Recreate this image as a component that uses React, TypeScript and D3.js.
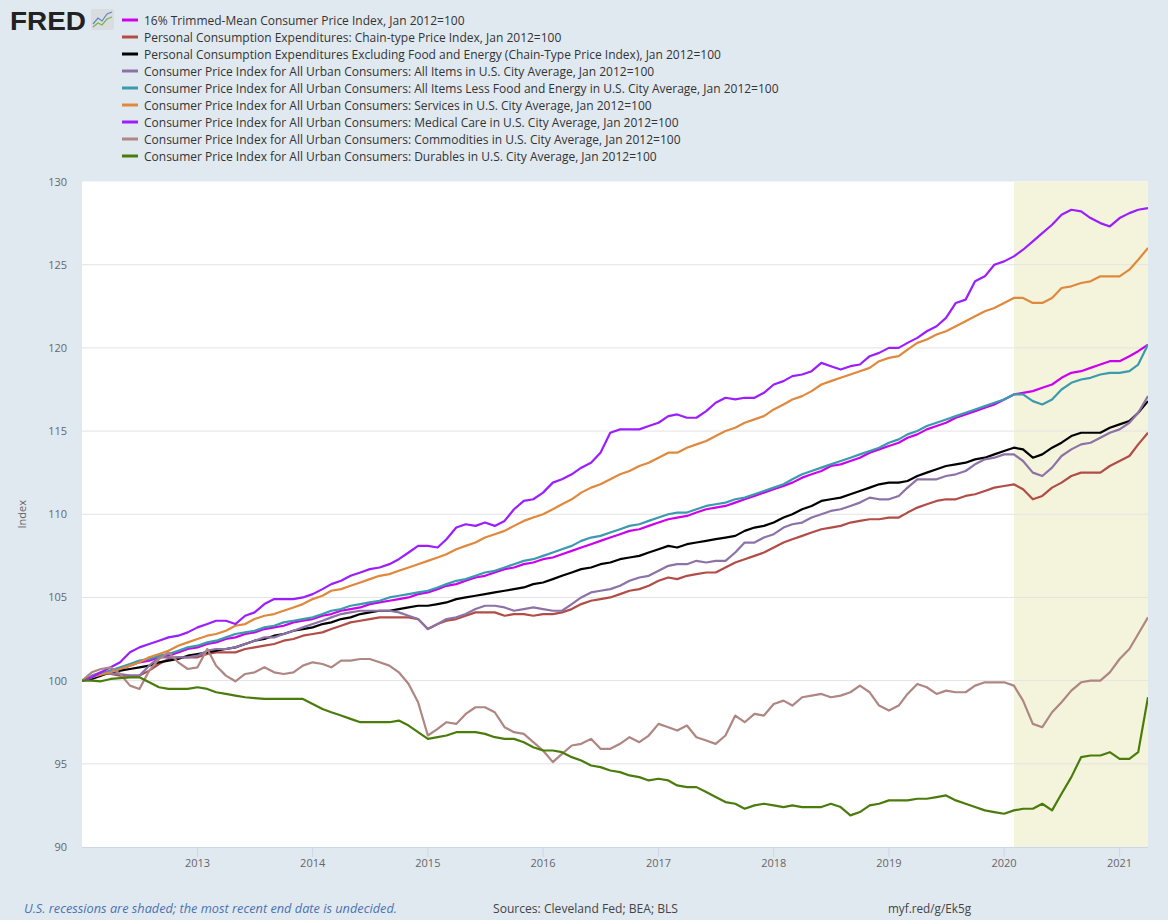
import React from "react";
import * as d3 from "d3";

const START = new Date(2012, 0, 1);
const END = new Date(2021, 3, 1);

const trimmedMean = [100.0,100.2,100.4,100.6,100.7,100.9,101.1,101.2,101.4,101.5,101.7,101.9,102.0,102.2,102.3,102.5,102.6,102.8,102.9,103.1,103.2,103.3,103.5,103.6,103.7,103.9,104.0,104.2,104.3,104.4,104.6,104.7,104.8,104.9,105.0,105.2,105.3,105.5,105.7,105.8,106.0,106.2,106.3,106.5,106.7,106.8,107.0,107.1,107.3,107.4,107.6,107.8,108.0,108.2,108.4,108.6,108.8,109.0,109.1,109.3,109.5,109.7,109.8,109.9,110.1,110.3,110.4,110.5,110.7,110.9,111.1,111.3,111.5,111.7,111.9,112.2,112.4,112.6,112.9,113.0,113.2,113.4,113.7,113.9,114.1,114.3,114.6,114.8,115.1,115.3,115.5,115.8,116.0,116.2,116.4,116.6,116.9,117.2,117.3,117.4,117.6,117.8,118.2,118.5,118.6,118.8,119.0,119.2,119.2,119.5,119.8,120.2];
const pce = [100.0,100.2,100.4,100.4,100.3,100.3,100.3,100.6,101.0,101.3,101.4,101.4,101.4,101.6,101.7,101.7,101.7,101.9,102.0,102.1,102.2,102.4,102.5,102.7,102.8,102.9,103.1,103.3,103.5,103.6,103.7,103.8,103.8,103.8,103.8,103.7,103.1,103.4,103.6,103.7,103.9,104.1,104.1,104.1,103.9,104.0,104.0,103.9,104.0,104.0,104.1,104.3,104.6,104.8,104.9,105.0,105.2,105.4,105.5,105.7,106.0,106.2,106.1,106.3,106.4,106.5,106.5,106.8,107.1,107.3,107.5,107.7,108.0,108.3,108.5,108.7,108.9,109.1,109.2,109.3,109.5,109.6,109.7,109.7,109.8,109.8,110.1,110.4,110.6,110.8,110.9,110.9,111.1,111.2,111.4,111.6,111.7,111.8,111.5,110.9,111.1,111.6,111.9,112.3,112.5,112.5,112.5,112.9,113.2,113.5,114.2,114.9];
const pceCore = [100.0,100.1,100.3,100.5,100.6,100.7,100.8,100.9,101.1,101.2,101.3,101.5,101.6,101.7,101.8,101.9,102.0,102.2,102.4,102.5,102.7,102.8,103.0,103.1,103.2,103.4,103.5,103.7,103.8,104.0,104.1,104.2,104.2,104.3,104.4,104.5,104.5,104.6,104.7,104.9,105.0,105.1,105.2,105.3,105.4,105.5,105.6,105.8,105.9,106.1,106.3,106.5,106.7,106.8,107.0,107.1,107.3,107.4,107.5,107.7,107.9,108.1,108.0,108.2,108.3,108.4,108.5,108.6,108.7,109.0,109.2,109.3,109.5,109.8,110.0,110.3,110.5,110.8,110.9,111.0,111.2,111.4,111.6,111.8,111.9,111.9,112.0,112.3,112.5,112.7,112.9,113.0,113.1,113.3,113.4,113.6,113.8,114.0,113.9,113.4,113.6,114.0,114.3,114.7,114.9,114.9,114.9,115.2,115.4,115.6,116.1,116.8];
const cpiAll = [100.0,100.3,100.5,100.4,100.4,100.3,100.3,100.9,101.4,101.4,101.4,101.4,101.5,101.8,101.9,101.9,102.0,102.2,102.4,102.6,102.6,102.8,103.0,103.2,103.4,103.6,103.8,104.0,104.1,104.2,104.2,104.2,104.2,104.1,103.9,103.7,103.1,103.4,103.7,103.8,104.0,104.3,104.5,104.5,104.4,104.2,104.3,104.4,104.3,104.2,104.2,104.6,105.0,105.3,105.4,105.5,105.7,106.0,106.2,106.3,106.6,106.9,107.0,107.0,107.2,107.1,107.2,107.2,107.7,108.3,108.3,108.6,108.8,109.2,109.4,109.5,109.8,110.0,110.2,110.3,110.5,110.7,111.0,110.9,110.9,111.1,111.6,112.1,112.1,112.1,112.3,112.4,112.6,113.0,113.3,113.4,113.6,113.6,113.2,112.5,112.3,112.8,113.5,113.9,114.2,114.3,114.6,114.9,115.1,115.5,116.1,117.1];
const cpiCore = [100.0,100.2,100.4,100.6,100.8,101.0,101.2,101.3,101.5,101.6,101.8,102.0,102.1,102.3,102.4,102.6,102.8,102.9,103.0,103.2,103.3,103.5,103.6,103.7,103.8,104.0,104.2,104.3,104.5,104.6,104.7,104.8,105.0,105.1,105.2,105.3,105.4,105.6,105.8,106.0,106.1,106.3,106.5,106.6,106.8,107.0,107.2,107.3,107.5,107.7,107.9,108.1,108.4,108.6,108.7,108.9,109.1,109.3,109.4,109.6,109.8,110.0,110.1,110.1,110.3,110.5,110.6,110.7,110.9,111.0,111.2,111.4,111.6,111.8,112.1,112.4,112.6,112.8,113.0,113.2,113.4,113.6,113.8,114.0,114.3,114.5,114.8,115.0,115.3,115.5,115.7,115.9,116.1,116.3,116.5,116.7,116.9,117.2,117.2,116.8,116.6,116.9,117.5,117.9,118.1,118.2,118.4,118.5,118.5,118.6,119.0,120.2];
const services = [100.0,100.2,100.35,100.5,100.7,100.9,101.1,101.4,101.6,101.8,102.1,102.3,102.5,102.7,102.8,103.0,103.3,103.4,103.7,103.9,104.0,104.2,104.4,104.6,104.9,105.1,105.4,105.5,105.7,105.9,106.1,106.3,106.4,106.6,106.8,107.0,107.2,107.4,107.6,107.9,108.1,108.3,108.6,108.8,109.0,109.3,109.6,109.8,110.0,110.3,110.6,110.9,111.3,111.6,111.8,112.1,112.4,112.6,112.9,113.1,113.4,113.7,113.7,114.0,114.2,114.4,114.7,115.0,115.2,115.5,115.7,115.9,116.3,116.6,116.9,117.1,117.4,117.8,118.0,118.2,118.4,118.6,118.8,119.2,119.4,119.5,119.9,120.3,120.5,120.8,121.0,121.3,121.6,121.9,122.2,122.4,122.7,123.0,123.0,122.7,122.7,123.0,123.6,123.7,123.9,124.0,124.3,124.3,124.3,124.7,125.3,126.0];
const medical = [100.0,100.2,100.5,100.8,101.1,101.7,102.0,102.2,102.4,102.6,102.7,102.9,103.2,103.4,103.6,103.6,103.4,103.9,104.1,104.6,104.9,104.9,104.9,105.0,105.2,105.5,105.8,106.0,106.3,106.5,106.7,106.8,107.0,107.3,107.7,108.1,108.1,108.0,108.5,109.2,109.4,109.3,109.5,109.3,109.6,110.3,110.8,110.9,111.3,111.9,112.1,112.4,112.8,113.1,113.7,114.9,115.1,115.1,115.1,115.3,115.5,115.9,116.0,115.8,115.8,116.2,116.7,117.0,116.9,117.0,117.0,117.3,117.8,118.0,118.3,118.4,118.6,119.1,118.9,118.7,118.9,119.0,119.5,119.7,120.0,120.0,120.3,120.6,121.0,121.3,121.8,122.7,122.9,124.0,124.3,125.0,125.2,125.5,125.9,126.4,126.9,127.4,128.0,128.3,128.2,127.8,127.5,127.3,127.8,128.1,128.3,128.4];
const commodities = [100.0,100.5,100.7,100.8,100.4,99.7,99.5,100.6,101.3,101.7,101.1,100.7,100.8,101.9,100.9,100.3,99.96,100.4,100.5,100.8,100.5,100.4,100.5,100.9,101.1,101.0,100.8,101.2,101.2,101.3,101.3,101.1,100.9,100.5,99.8,98.7,96.7,97.1,97.5,97.4,98.0,98.4,98.4,98.1,97.2,96.9,96.8,96.3,95.8,95.1,95.6,96.1,96.2,96.5,95.9,95.9,96.2,96.6,96.3,96.7,97.4,97.2,97.0,97.3,96.6,96.4,96.2,96.7,97.9,97.5,98.0,97.9,98.6,98.8,98.5,99.0,99.1,99.2,99.0,99.1,99.3,99.7,99.3,98.5,98.2,98.5,99.2,99.8,99.6,99.2,99.4,99.3,99.3,99.7,99.9,99.9,99.9,99.7,98.8,97.4,97.2,98.1,98.7,99.4,99.9,100.0,100.0,100.5,101.3,101.9,102.8,103.8];
const durables = [100.0,100.0,99.96,100.1,100.15,100.2,100.2,99.9,99.6,99.5,99.5,99.5,99.6,99.5,99.3,99.2,99.1,99.0,98.95,98.9,98.9,98.9,98.9,98.9,98.6,98.3,98.1,97.9,97.7,97.5,97.5,97.5,97.5,97.6,97.3,96.9,96.5,96.6,96.7,96.9,96.9,96.9,96.8,96.6,96.5,96.5,96.3,96.0,95.8,95.8,95.7,95.4,95.2,94.9,94.8,94.6,94.5,94.3,94.2,94.0,94.1,94.0,93.7,93.6,93.6,93.3,93.0,92.7,92.6,92.3,92.5,92.6,92.5,92.4,92.5,92.4,92.4,92.4,92.6,92.4,91.9,92.1,92.5,92.6,92.8,92.8,92.8,92.9,92.9,93.0,93.1,92.8,92.6,92.4,92.2,92.1,92.0,92.2,92.3,92.3,92.6,92.2,93.2,94.2,95.4,95.5,95.5,95.7,95.3,95.3,95.7,99.0];

const seriesNames = [
  "16% Trimmed-Mean Consumer Price Index, Jan 2012=100",
  "Personal Consumption Expenditures: Chain-type Price Index, Jan 2012=100",
  "Personal Consumption Expenditures Excluding Food and Energy (Chain-Type Price Index), Jan 2012=100",
  "Consumer Price Index for All Urban Consumers: All Items in U.S. City Average, Jan 2012=100",
  "Consumer Price Index for All Urban Consumers: All Items Less Food and Energy in U.S. City Average, Jan 2012=100",
  "Consumer Price Index for All Urban Consumers: Services in U.S. City Average, Jan 2012=100",
  "Consumer Price Index for All Urban Consumers: Medical Care in U.S. City Average, Jan 2012=100",
  "Consumer Price Index for All Urban Consumers: Commodities in U.S. City Average, Jan 2012=100",
  "Consumer Price Index for All Urban Consumers: Durables in U.S. City Average, Jan 2012=100",
];
const seriesColors = ["#cc00ee", "#b24c47", "#000000", "#8c72a6", "#3a9aae", "#e0883c", "#9b1eff", "#ae8682", "#4a7c0c"];
const seriesValues = [trimmedMean, pce, pceCore, cpiAll, cpiCore, services, medical, commodities, durables];

const yTicks = [90, 95, 100, 105, 110, 115, 120, 125, 130];
const xTickYears = [2013, 2014, 2015, 2016, 2017, 2018, 2019, 2020, 2021];
const recessionStart = new Date(2020, 1, 1);

export default function App() {
  const left = 82, right = 1148, top = 181.5, bottom = 847;
  const x = d3.scaleTime().domain([START, END]).range([left, right]);
  const y = d3.scaleLinear().domain([90, 130]).range([bottom, top]);
  const line = d3
    .line<number>()
    .x((_, i) => x(d3.timeMonth.offset(START, i)))
    .y((v) => y(v));
  const font = "'Open Sans', 'DejaVu Sans', sans-serif";

  return (
    <svg
      width={1168}
      height={920}
      style={{ position: "absolute", left: 0, top: 0, display: "block" }}
      fontFamily={font}
    >
      <rect x={0} y={0} width={1168} height={920} fill="#e1e9f0" />
      {/* FRED logo */}
      <text x={10} y={30} fontSize={25} fontWeight={800} fill="#222" textLength={76} lengthAdjust="spacingAndGlyphs" fontFamily="'Liberation Sans', Arial, sans-serif">FRED</text>
      <g>
        <rect x={91} y={9} width={23} height={21} rx={2} fill="#d9dde0" />
        <path d="M93,24 L98,18 L102,21 L107,14 L112,12" stroke="#5b86c4" strokeWidth={1.2} fill="none" />
        <path d="M93,27 L98,23 L102,25 L107,19 L112,17" stroke="#7fb04a" strokeWidth={1.2} fill="none" />
      </g>
      {/* legend */}
      {seriesNames.map((name, i) => (
        <g key={name}>
          <line x1={122} x2={138} y1={20 + i * 17} y2={20 + i * 17} stroke={seriesColors[i]} strokeWidth={3} />
          <text x={144} y={24.5 + i * 17} fontSize={12} fill="#333">{name}</text>
        </g>
      ))}
      {/* plot area */}
      <rect x={left} y={top} width={right - left} height={bottom - top} fill="#ffffff" />
      <rect x={x(recessionStart)} y={top} width={right - x(recessionStart)} height={bottom - top} fill="#f4f4dc" />
      {yTicks.map((t) => (
        <g key={t}>
          {t > 90 && t < 130 && <line x1={left} x2={right} y1={y(t)} y2={y(t)} stroke="#e3e3e3" strokeWidth={1} />}
          <text x={67} y={y(t) + 4} fontSize={11} fill="#666" textAnchor="end">{t}</text>
        </g>
      ))}
      <line x1={left} x2={right} y1={bottom + 0.5} y2={bottom + 0.5} stroke="#ccd6eb" strokeWidth={1} />
      {xTickYears.map((yr) => {
        const px = x(new Date(yr, 0, 1));
        return (
          <g key={yr}>
            <line x1={px} x2={px} y1={bottom} y2={bottom + 10} stroke="#ccd6eb" strokeWidth={1} />
            <text x={px} y={867} fontSize={11} fill="#666" textAnchor="middle">{yr}</text>
          </g>
        );
      })}
      <text transform={`translate(26,${(top + bottom) / 2}) rotate(-90)`} fontSize={11} fill="#666" textAnchor="middle">Index</text>
      {/* series */}
      <g clipPath="url(#plotclip)">
        {seriesValues.map((vals, i) => (
          <path key={i} d={line(vals) || ""} fill="none" stroke={seriesColors[i]} strokeWidth={2.2} strokeLinejoin="round" />
        ))}
      </g>
      <defs>
        <clipPath id="plotclip">
          <rect x={left} y={top} width={right - left} height={bottom - top} />
        </clipPath>
      </defs>
      {/* footer */}
      <text x={24} y={913} fontSize={12} fontStyle="italic" fill="#4a72b3" textLength={373} lengthAdjust="spacingAndGlyphs">U.S. recessions are shaded; the most recent end date is undecided.</text>
      <text x={493} y={913} fontSize={12} fill="#444" textLength={185} lengthAdjust="spacingAndGlyphs">Sources: Cleveland Fed; BEA; BLS</text>
      <text x={888} y={913} fontSize={12} fill="#444" textLength={83} lengthAdjust="spacingAndGlyphs">myf.red/g/Ek5g</text>
    </svg>
  );
}
